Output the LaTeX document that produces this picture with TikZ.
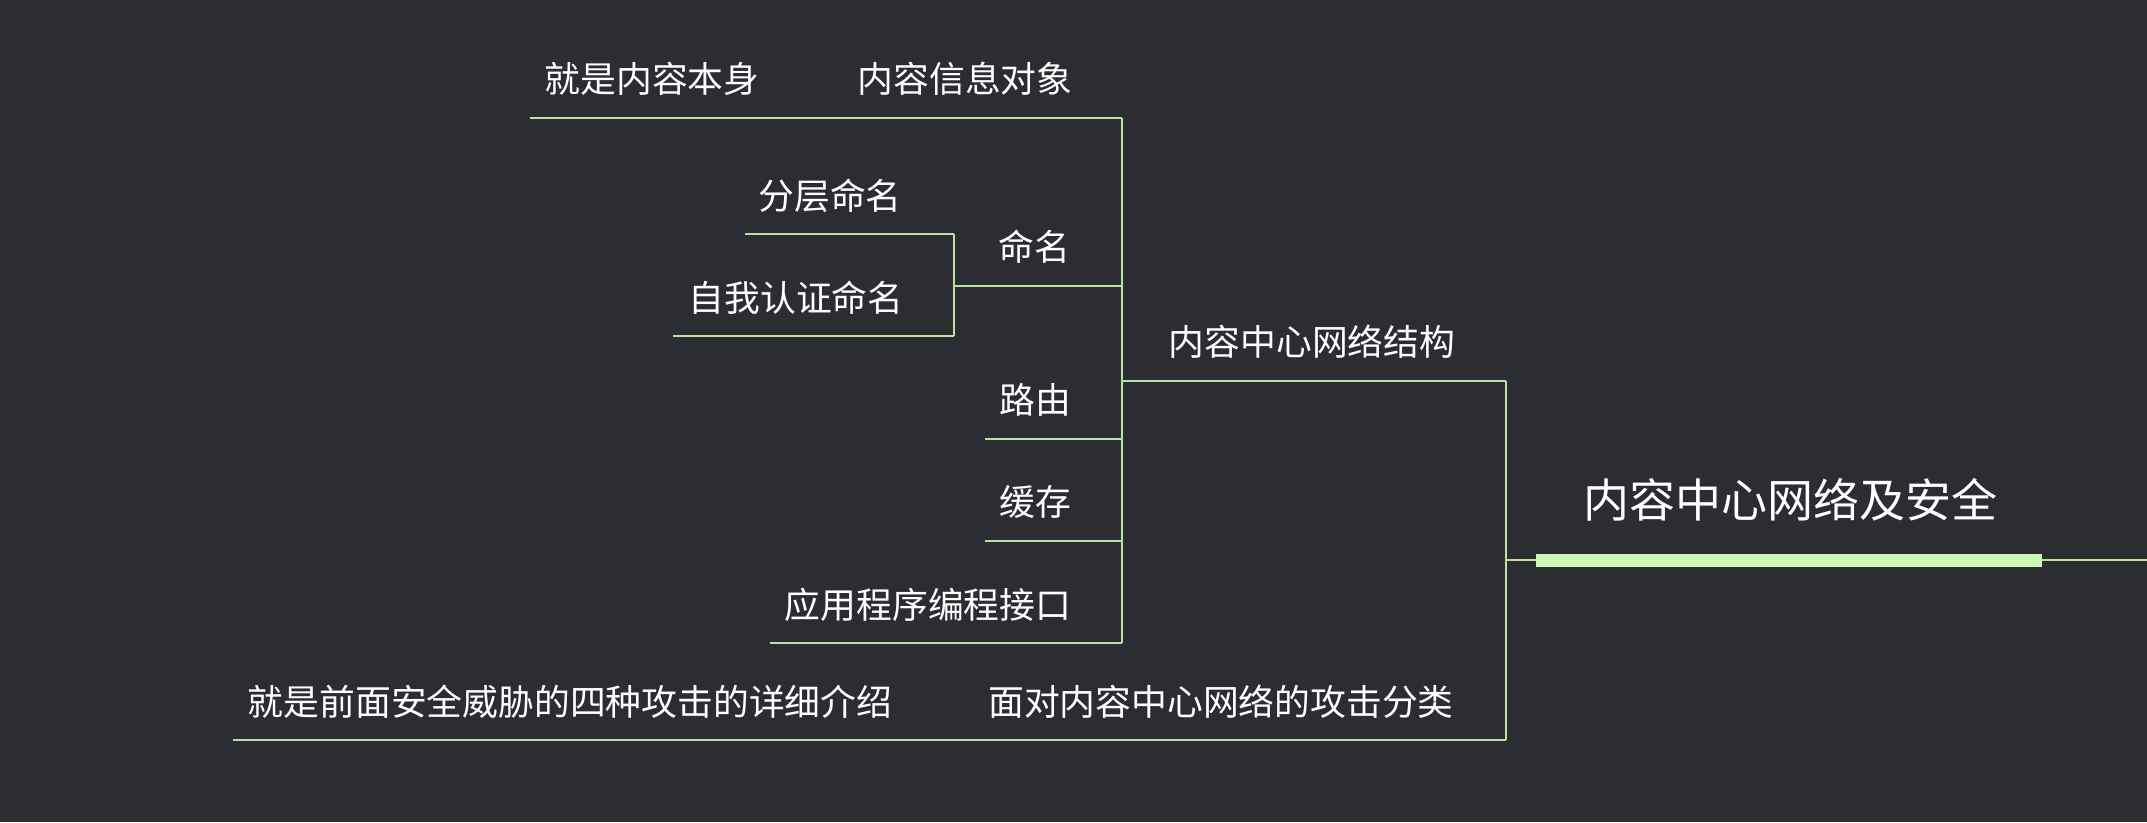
\documentclass[tikz,border=0pt]{standalone}
\usepackage{fontspec}
\newfontfamily\cjk{Noto Sans CJK SC}
\usepackage{tikz}
\usetikzlibrary{positioning,calc}
\definecolor{bgdark}{RGB}{44,45,50}
\definecolor{branch}{RGB}{183,226,160}
\definecolor{rootbar}{RGB}{205,247,182}

\begin{document}
\begin{tikzpicture}[x=1pt,y=-1pt,
    topic/.style={text=white, inner sep=0pt, font=\cjk\fontsize{35.8}{40}\selectfont},
    roottopic/.style={topic, font=\cjk\fontsize{46}{50}\selectfont},
    link/.style={draw=branch, line width=2pt},
    bar/.style={draw=rootbar, line width=13pt}]
  \fill[bgdark] (0,0) rectangle (2147,822);
  \useasboundingbox (0,0) rectangle (2147,822);

  \node[roottopic] (root)     at (1790,500) {内容中心网络及安全};
  \node[topic]     (struct)   at (1312,342) {内容中心网络结构};
  \node[topic]     (attack)   at (1221,702) {面对内容中心网络的攻击分类};
  \node[topic]     (detail)   at (570,702)  {就是前面安全威胁的四种攻击的详细介绍};
  \node[topic]     (object)   at (965,79)   {内容信息对象};
  \node[topic]     (itself)   at (652,79)   {就是内容本身};
  \node[topic]     (naming)   at (1034,247) {命名};
  \node[topic]     (hier)     at (830,196)  {分层命名};
  \node[topic]     (selfcert) at (796,298)  {自我认证命名};
  \node[topic]     (routing)  at (1035,400) {路由};
  \node[topic]     (cache)    at (1035,502) {缓存};
  \node[topic]     (api)      at (928,605)  {应用程序编程接口};

  \coordinate (root-in)  at (1506,560);
  \coordinate (root-out) at (2147,560);
  \coordinate (root-l)   at (1536,560);
  \coordinate (root-r)   at (2042,560);
  \coordinate (struct-r) at (1506,381);
  \coordinate (struct-l) at (1122,381);
  \coordinate (attack-r) at (1506,740);
  \coordinate (detail-l) at (233,740);
  \coordinate (object-r) at (1122,118);
  \coordinate (itself-l) at (530,118);
  \coordinate (naming-r) at (1122,286);
  \coordinate (naming-l) at (954,286);
  \coordinate (hier-r)   at (954,234);
  \coordinate (hier-l)   at (745,234);
  \coordinate (selfcert-r) at (954,336);
  \coordinate (selfcert-l) at (673,336);
  \coordinate (routing-r) at (1122,439);
  \coordinate (routing-l) at (985,439);
  \coordinate (cache-r)  at (1122,541);
  \coordinate (cache-l)  at (985,541);
  \coordinate (api-r)    at (1122,643);
  \coordinate (api-l)    at (770,643);

  \draw[link] (root-in) -- (root-out);
  \draw[bar] (root-l) -- (root-r);
  \draw[link] (struct-r) -- (attack-r);
  \draw[link] (struct-r) -- (struct-l);
  \draw[link] (attack-r) -- (detail-l);
  \draw[link] (object-r) -- (api-r);
  \draw[link] (object-r) -- (itself-l);
  \draw[link] (naming-r) -- (naming-l);
  \draw[link] (hier-r) -- (selfcert-r);
  \draw[link] (hier-r) -- (hier-l);
  \draw[link] (selfcert-r) -- (selfcert-l);
  \draw[link] (routing-r) -- (routing-l);
  \draw[link] (cache-r) -- (cache-l);
  \draw[link] (api-r) -- (api-l);
\end{tikzpicture}
\end{document}
